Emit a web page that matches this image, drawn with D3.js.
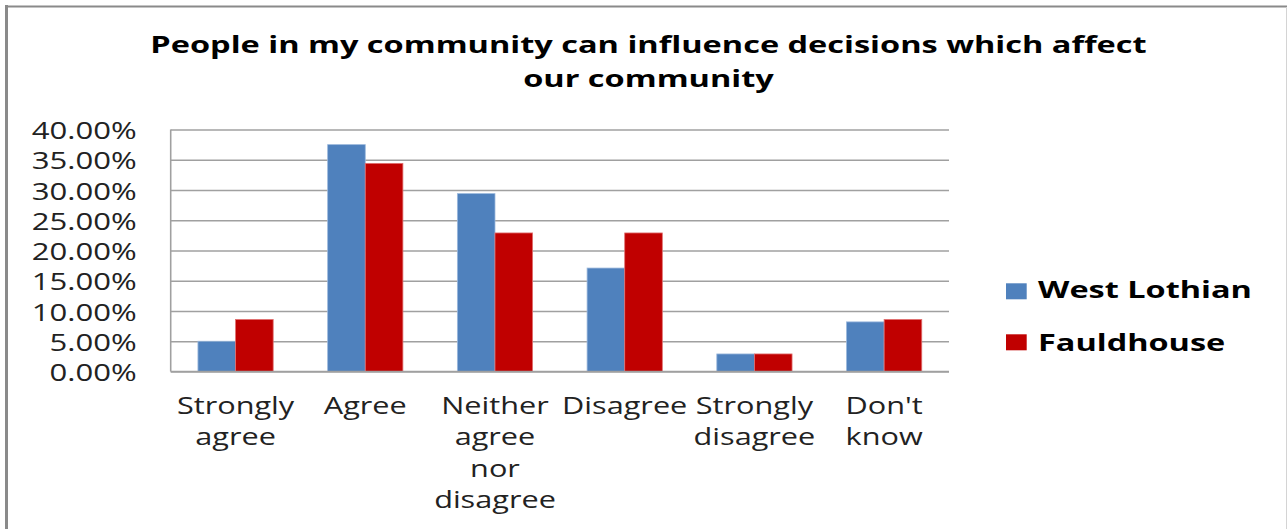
<!DOCTYPE html>
<html>
<head>
<meta charset="utf-8">
<script src="https://cdn.jsdelivr.net/npm/d3@7/dist/d3.min.js"></script>
<style>
  html, body { margin: 0; padding: 0; background: #fff; }
  svg { display: block; }
  text { font-family: "Open Sans", "DejaVu Sans", sans-serif; }
</style>
</head>
<body>
<svg id="chart" width="1288" height="529"></svg>
<script>
// ---- data ----
const titleLines = ["People in my community can influence decisions which affect", "our community"];
const categories = ["Strongly agree", "Agree", "Neither agree nor disagree", "Disagree", "Strongly disagree", "Don't know"];
const seriesNames = ["West Lothian", "Fauldhouse"];
const westLothian = [5.0, 37.5, 29.4, 17.1, 2.9, 8.2];
const fauldhouse = [8.6, 34.4, 22.9, 22.9, 2.9, 8.6];
const yTicks = [0, 5, 10, 15, 20, 25, 30, 35, 40];
const colors = ["#4F81BD", "#C00000"];

// ---- layout ----
const svg = d3.select("#chart");
const plot = { left: 170.7, right: 949, top: 129.5, bottom: 371.5 };

// fit a text selection so its width becomes target, using horizontal scale
function stretch(sel, factor) {
  sel.each(function () {
    const t = d3.select(this);
    const x = +t.attr("data-x"), y = +t.attr("data-y");
    t.attr("x", 0).attr("y", 0)
     .attr("transform", `translate(${x},${y}) scale(${factor},1)`);
  });
}
function natural(sel) { return sel.node().getComputedTextLength(); }

// outer border
svg.append("line").attr("x1", 6.5).attr("x2", 6.5).attr("y1", 5).attr("y2", 529)
  .attr("stroke", "#8a8a8a").attr("stroke-width", 3);
svg.append("line").attr("x1", 5).attr("x2", 1287).attr("y1", 6.5).attr("y2", 6.5)
  .attr("stroke", "#8a8a8a").attr("stroke-width", 2);
svg.append("line").attr("x1", 1286.5).attr("x2", 1286.5).attr("y1", 7).attr("y2", 529)
  .attr("stroke", "#d4d4d4").attr("stroke-width", 1);

// scales
const y = d3.scaleLinear().domain([0, 40]).range([plot.bottom, plot.top]);
const x = d3.scaleBand().domain(categories).range([plot.left, plot.right])
  .paddingInner(0.42).paddingOuter(0.21);
const xs = d3.scaleBand().domain(seriesNames).range([0, x.bandwidth()]);

// gridlines via axis
const grid = svg.append("g")
  .attr("transform", `translate(${plot.left},0)`)
  .call(d3.axisLeft(y).tickValues(yTicks).tickSize(-(plot.right - plot.left)).tickFormat(""));
grid.select(".domain").remove();
grid.selectAll(".tick line").attr("stroke", "#a0a0a0").attr("stroke-width", 1.6);

// left axis line
svg.append("line").attr("x1", plot.left).attr("x2", plot.left)
  .attr("y1", plot.top).attr("y2", plot.bottom)
  .attr("stroke", "#a0a0a0").attr("stroke-width", 1.6);

// y tick labels
const yLab = svg.append("g").selectAll("text").data(yTicks).join("text")
  .attr("data-x", 136.7).attr("data-y", d => y(d) + 9.5)
  .attr("text-anchor", "end").attr("font-size", 23).attr("fill", "#222")
  .text(d => d3.format(".2f")(d) + "%");
const yFactor = 105 / natural(yLab.filter(d => d === 40));
stretch(yLab, yFactor);

// bars
const seriesData = [westLothian, fauldhouse];
const groups = svg.append("g").selectAll("g").data(seriesNames).join("g")
  .attr("fill", (d, i) => colors[i]);
groups.selectAll("rect")
  .data((s, si) => categories.map((c, ci) => ({ c, s, v: seriesData[si][ci], si })))
  .join("rect")
  .attr("x", d => x(d.c) + xs(d.s))
  .attr("y", d => y(d.v))
  .attr("width", xs.bandwidth())
  .attr("height", d => y(0) - y(d.v))
  .attr("stroke", d => d.si === 0 ? "#9bb8dc" : "#e07070")
  .attr("stroke-width", 0.8);

// bottom axis line
svg.append("line").attr("x1", plot.left).attr("x2", plot.right)
  .attr("y1", plot.bottom).attr("y2", plot.bottom)
  .attr("stroke", "#a0a0a0").attr("stroke-width", 1.6);

// x labels
const xLabG = svg.append("g");
const xLines = [];
categories.forEach(c => {
  c.split(" ").forEach((w, li) => xLines.push({ c, w, li }));
});
const xLab = xLabG.selectAll("text").data(xLines).join("text")
  .attr("data-x", d => x(d.c) + x.bandwidth() / 2)
  .attr("data-y", d => 413.5 + d.li * 31.6)
  .attr("text-anchor", "middle").attr("font-size", 23).attr("fill", "#222")
  .text(d => d.w);
const xFactor = 115 / natural(xLab.filter(d => d.w === "Strongly" && d.li === 0));
stretch(xLab, xFactor * 1.02);

// title
const tLab = svg.append("g").selectAll("text").data(titleLines).join("text")
  .attr("data-x", 648.5).attr("data-y", (d, i) => 53.3 + i * 33.4)
  .attr("text-anchor", "middle").attr("font-size", 23.5).attr("font-weight", "bold")
  .attr("fill", "#000")
  .text(d => d);
const tFactor = 997 / natural(tLab.filter((d, i) => i === 0));
stretch(tLab, tFactor);

// legend
const leg = svg.append("g");
leg.selectAll("rect").data(seriesNames).join("rect")
  .attr("x", 1006).attr("y", (d, i) => 283.3 + i * 51)
  .attr("width", 20.7).attr("height", 16)
  .attr("fill", (d, i) => colors[i]);
const lLab = leg.selectAll("text").data(seriesNames).join("text")
  .attr("data-x", 1038).attr("data-y", (d, i) => 298.3 + i * 52.4)
  .attr("font-size", 23.5).attr("font-weight", "bold").attr("fill", "#000")
  .text(d => d);
const lFactor = 214 / natural(lLab.filter((d, i) => i === 0));
stretch(lLab, lFactor);
</script>
</body>
</html>
